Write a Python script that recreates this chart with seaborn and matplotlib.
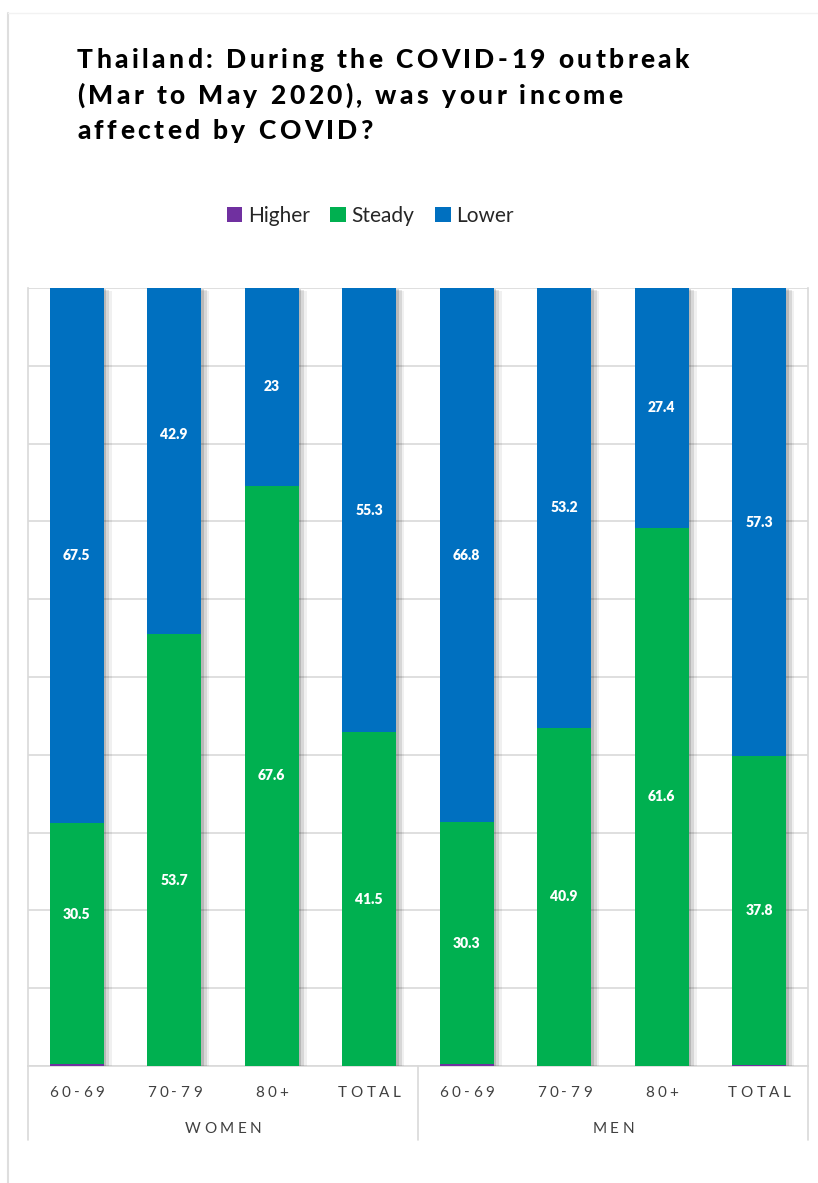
import matplotlib
matplotlib.use("Agg")
import matplotlib.pyplot as plt
import numpy as np
import pandas as pd
import seaborn as sns
from matplotlib import patheffects as pe
from matplotlib.patches import Patch
from matplotlib.lines import Line2D
from matplotlib.textpath import TextToPath
from matplotlib.font_manager import FontProperties

# ---- data -------------------------------------------------------------
groups = ["WOMEN", "WOMEN", "WOMEN", "WOMEN", "MEN", "MEN", "MEN", "MEN"]
ages = ["60-69", "70-79", "80+", "TOTAL", "60-69", "70-79", "80+", "TOTAL"]
higher = [0.2, 0.0, 0.0, 0.0, 0.2, 0.0, 0.0, 0.1]
steady = [30.5, 53.7, 67.6, 41.5, 30.3, 40.9, 61.6, 37.8]
lower = [67.5, 42.9, 23.0, 55.3, 66.8, 53.2, 27.4, 57.3]
series = ["Higher", "Steady", "Lower"]

# manual label nudges (percentage points along the bar)
label_nudge = {(0, "Steady"): 3.7, (1, "Steady"): -3.9, (1, "Lower"): 3.4}

title_lines = ["Thailand: During the COVID-19 outbreak",
               "(Mar to May 2020), was your income",
               "affected by COVID?"]

# ---- styling ----------------------------------------------------------
W, H = 818, 1183
FAMILY = ["Lato", "DejaVu Sans"]
colors = {"Higher": "#7030A0", "Steady": "#00B050", "Lower": "#0070C0"}
GRID = "#d9d9d9"
TEXT = "#404040"

sns.set_theme(style="white")
plt.rcParams["font.family"] = FAMILY

keys = [f"{g} {a}" for g, a in zip(groups, ages)]
df = pd.DataFrame({"key": keys, "Higher": higher, "Steady": steady, "Lower": lower})
tot = df[series].sum(axis=1)
for s in series:
    df[s + "_pct"] = df[s] / tot * 100
df["top_Higher"] = df["Higher_pct"]
df["top_Steady"] = df["Higher_pct"] + df["Steady_pct"]
df["top_Lower"] = df["top_Steady"] + df["Lower_pct"]

fig = plt.figure(figsize=(W / 100, H / 100), dpi=100)
fig.patch.set_facecolor("white")

ax = fig.add_axes([28 / W, 117 / H, 780 / W, 778 / H])
ax.set_axisbelow(True)

# stacked bars drawn back to front: full stack, then lower layers on top
for layer in ["Lower", "Steady", "Higher"]:
    n_before = len(ax.patches)
    sns.barplot(data=df, x="key", y="top_" + layer, order=keys, color=colors[layer],
                width=0.55, saturation=1, errorbar=None, ax=ax, zorder=3,
                edgecolor="none", linewidth=0)
    if layer == "Lower":
        for p in ax.patches[n_before:]:
            p.set_path_effects([
                pe.SimplePatchShadow(offset=(6, -2), shadow_rgbFace="#000000", alpha=0.06),
                pe.SimplePatchShadow(offset=(4, -1.5), shadow_rgbFace="#000000", alpha=0.10),
                pe.SimplePatchShadow(offset=(2, -1), shadow_rgbFace="#000000", alpha=0.14),
                pe.Normal()])

ax.set_xlim(-0.5, len(keys) - 0.5)
ax.set_ylim(0, 100)
ax.set_yticks(np.arange(0, 101, 10))
ax.yaxis.grid(True, color=GRID, linewidth=1.2)
ax.set_yticklabels([])
ax.set_xticks([])
ax.set_xlabel("")
ax.set_ylabel("")
ax.tick_params(length=0)
for side in ["left", "right", "bottom"]:
    ax.spines[side].set_color(GRID)
    ax.spines[side].set_linewidth(1.2)
ax.spines["top"].set_visible(False)

# value labels centred in each segment
for i in range(len(keys)):
    for s in ["Steady", "Lower"]:
        v = df.loc[i, s]
        if v <= 0:
            continue
        top = df.loc[i, "top_" + s]
        mid = top - df.loc[i, s + "_pct"] / 2 + label_nudge.get((i, s), 0)
        ax.text(i, mid, f"{v:g}", ha="center", va="center", color="white",
                fontsize=10, fontweight="heavy", zorder=5)


# ---- letter-spaced text helper ------------------------------------------
_ttp = TextToPath()


def spaced_text(x, y, s, size, weight="normal", color="black", tracking=0.0, ha="left"):
    prop = FontProperties(family=FAMILY, size=size, weight=weight)

    def adv(c):
        a = _ttp.get_text_width_height_descent("x" + c + "x", prop, ismath=False)[0]
        b = _ttp.get_text_width_height_descent("xx", prop, ismath=False)[0]
        return (a - b) * 100 / 72

    ws = [adv(c) for c in s]
    total = sum(ws) + tracking * (len(s) - 1)
    x0 = x - total / 2 if ha == "center" else x
    for c, w in zip(s, ws):
        if c != " ":
            fig.text((x0 + w / 2) / W, 1 - y / H, c, fontproperties=prop, color=color,
                     ha="center", va="baseline")
        x0 += w + tracking


# title
for k, line in enumerate(title_lines):
    spaced_text(77, 68 + 35.5 * k, line, size=19, weight="black", color="black", tracking=3.4)

# category and group labels
ax_left, ax_w = 28, 780
step = ax_w / len(keys)
for i, a in enumerate(ages):
    spaced_text(ax_left + step * (i + 0.5), 1097, a, size=11, color=TEXT, tracking=3.5, ha="center")
group_names = ["WOMEN", "MEN"]
for j, g in enumerate(group_names):
    spaced_text(ax_left + ax_w / 4 * (2 * j + 1), 1133, g, size=11, color=TEXT, tracking=3.5, ha="center")

# group separators below the axis
for xp in [28, 418, 808]:
    fig.add_artist(Line2D([xp / W, xp / W], [1 - 1066 / H, 1 - 1140 / H],
                          transform=fig.transFigure, color=GRID, lw=1.2))

# faint outer frame
fig.add_artist(Line2D([8 / W, 8 / W], [0, 1 - 13 / H], transform=fig.transFigure,
                      color="#dedede", lw=1.5))
fig.add_artist(Line2D([8 / W, 1], [1 - 13 / H, 1 - 13 / H], transform=fig.transFigure,
                      color="#f2f2f2", lw=1.0))

# legend
handles = [Patch(facecolor=colors[s], edgecolor="none", label=s) for s in series]
fig.legend(handles=handles, loc="center", bbox_to_anchor=(370 / W, 1 - 216 / H),
           ncol=3, frameon=False, fontsize=15, handlelength=0.75, handleheight=0.75,
           handletextpad=0.25, columnspacing=1.0, labelcolor="#262626")

fig.savefig("out.png", dpi=100, facecolor="white")
